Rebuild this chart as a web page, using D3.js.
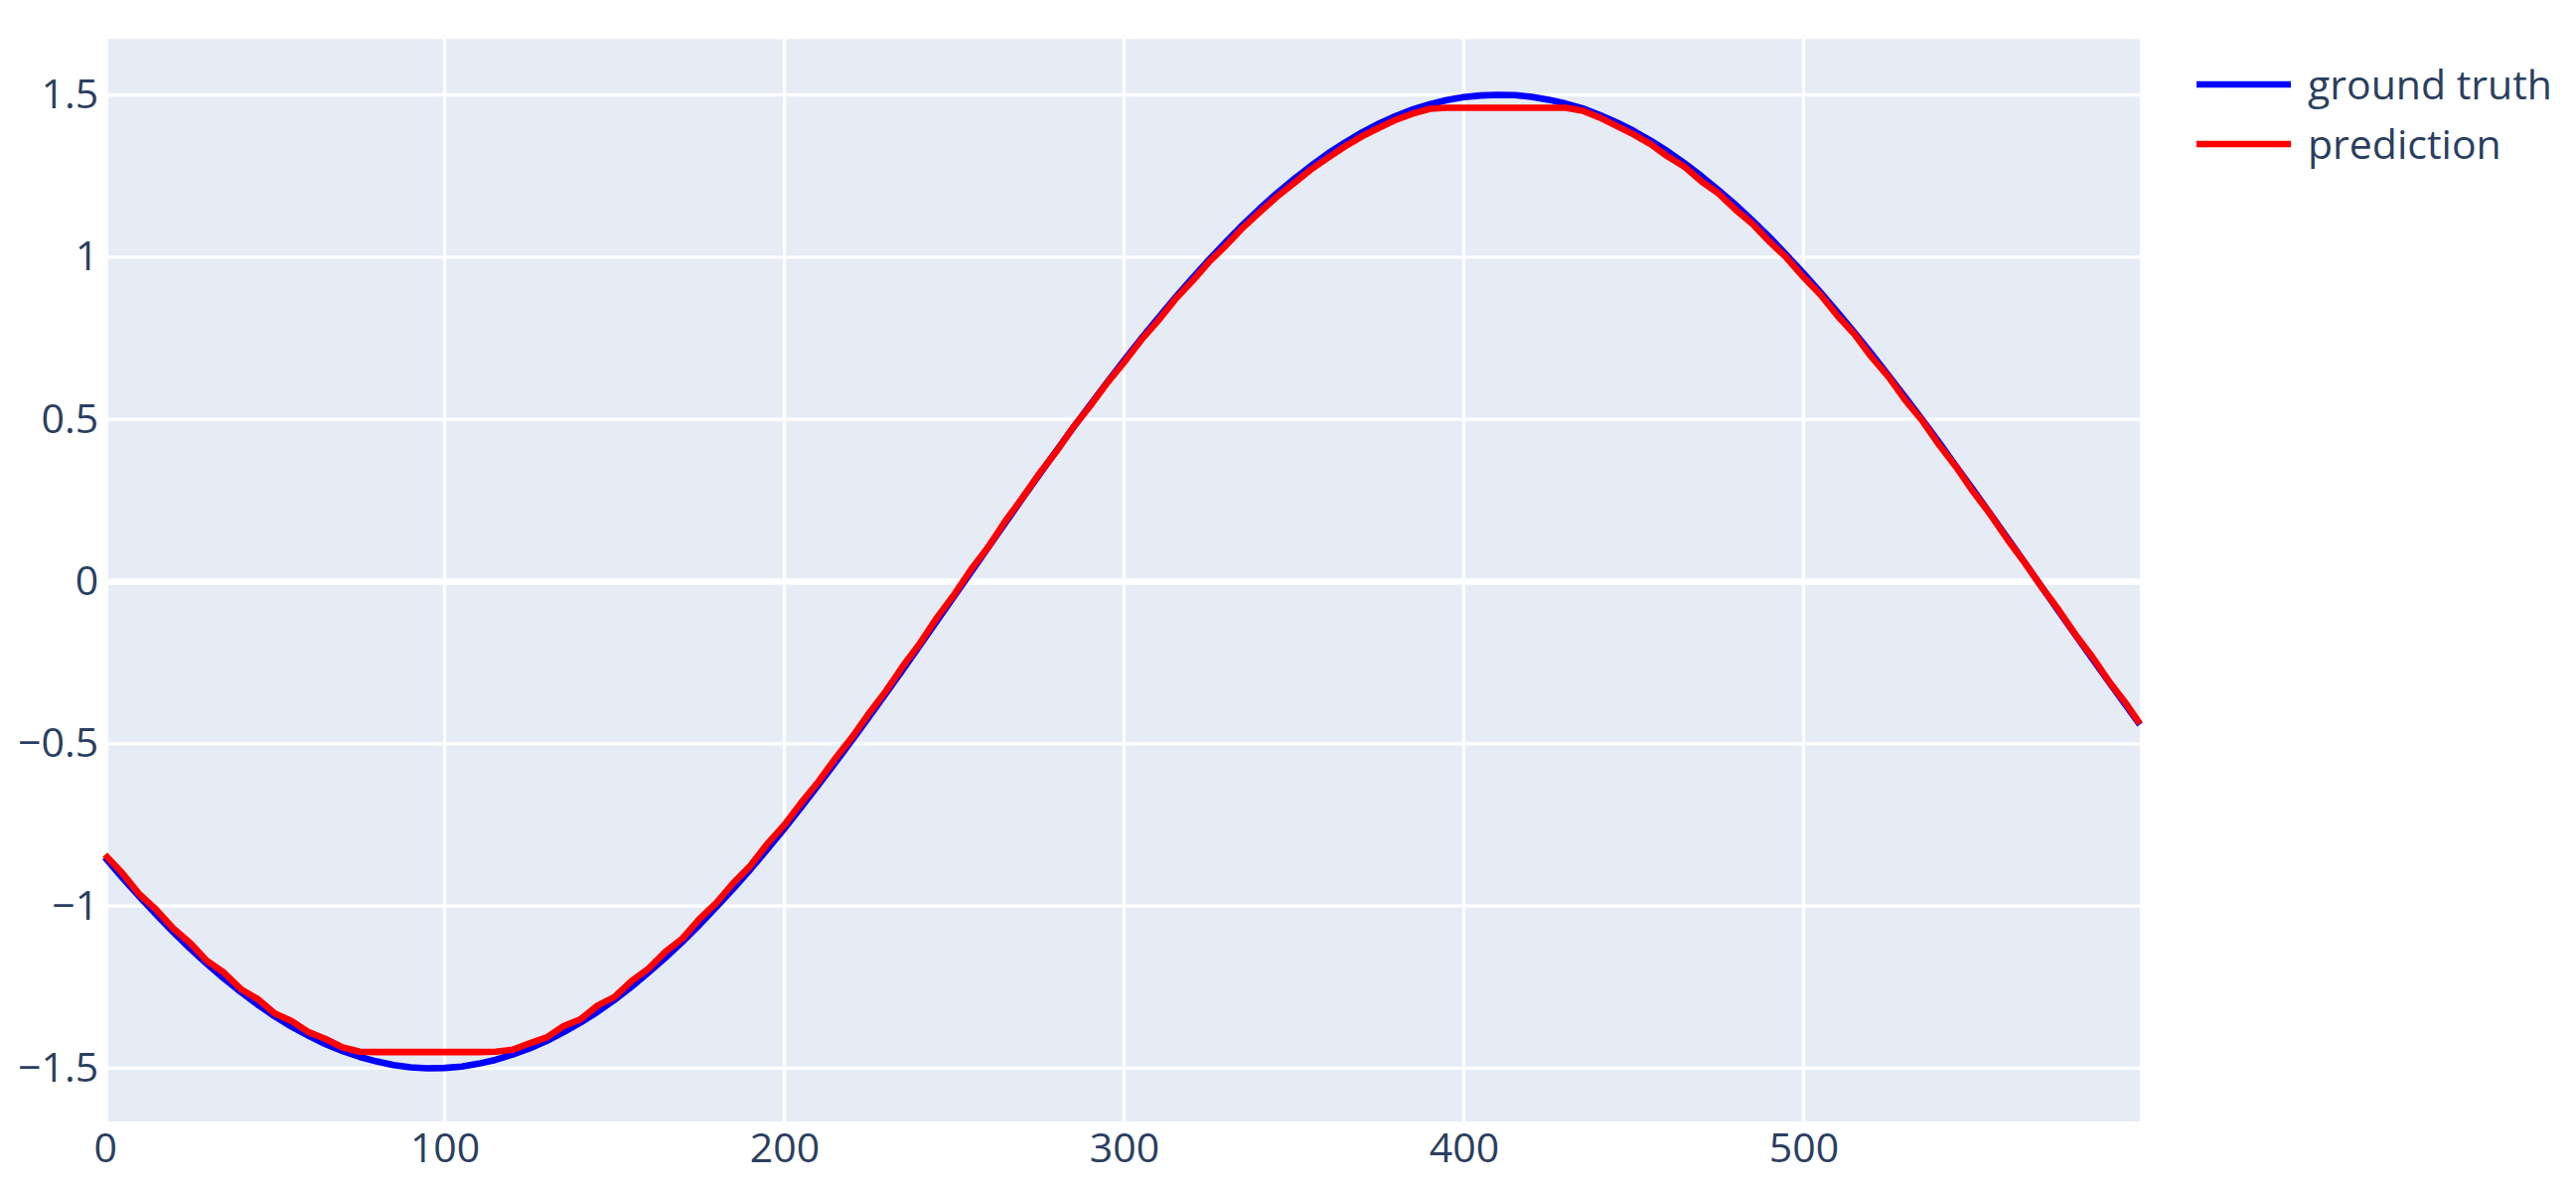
<!DOCTYPE html>
<html><head><meta charset="utf-8">
<script src="https://cdn.jsdelivr.net/npm/d3@7"></script>
<style>html,body{margin:0;padding:0;background:#fff;overflow:hidden}</style>
</head><body>
<svg id="chart" width="2593" height="1199"></svg>
<script>
const seriesNames = ["ground truth", "prediction"];
const seriesColors = ["#0000ff", "#ff0000"];
const xValues = [0,5,10,15,20,25,30,35,40,45,50,55,60,65,70,75,80,85,90,95,
  100,105,110,115,120,125,130,135,140,145,150,155,160,165,170,175,180,185,190,195,
  200,205,210,215,220,225,230,235,240,245,250,255,260,265,270,275,280,285,290,295,
  300,305,310,315,320,325,330,335,340,345,350,355,360,365,370,375,380,385,390,395,
  400,405,410,415,420,425,430,435,440,445,450,455,460,465,470,475,480,485,490,495,
  500,505,510,515,520,525,530,535,540,545,550,555,560,565,570,575,580,585,590,595,599];
const groundTruth = [-0.850,-0.911,-0.969,-1.025,-1.079,-1.130,-1.178,-1.223,-1.265,-1.304,
  -1.340,-1.372,-1.400,-1.426,-1.447,-1.465,-1.479,-1.490,-1.497,-1.500,
  -1.499,-1.495,-1.486,-1.474,-1.458,-1.439,-1.416,-1.389,-1.359,-1.326,
  -1.289,-1.249,-1.205,-1.159,-1.110,-1.058,-1.003,-0.946,-0.887,-0.825,
  -0.761,-0.695,-0.627,-0.558,-0.488,-0.416,-0.343,-0.270,-0.195,-0.120,
  -0.045,0.030,0.105,0.180,0.255,0.329,0.402,0.474,0.544,0.614,
  0.682,0.748,0.812,0.874,0.934,0.992,1.047,1.100,1.150,1.197,
  1.240,1.281,1.319,1.353,1.384,1.411,1.435,1.455,1.471,1.484,
  1.493,1.498,1.500,1.499,1.494,1.485,1.473,1.458,1.438,1.415,
  1.389,1.359,1.326,1.289,1.249,1.206,1.161,1.112,1.061,1.006,
  0.950,0.891,0.830,0.767,0.702,0.635,0.567,0.498,0.427,0.354,
  0.282,0.208,0.134,0.060,-0.015,-0.090,-0.164,-0.238,-0.311,-0.383,-0.441];
const prediction = [-0.842,-0.897,-0.962,-1.010,-1.068,-1.113,-1.169,-1.205,-1.256,-1.287,
  -1.331,-1.355,-1.389,-1.410,-1.436,-1.449,-1.450,-1.450,-1.450,-1.450,
  -1.450,-1.450,-1.450,-1.449,-1.443,-1.423,-1.405,-1.370,-1.349,-1.307,
  -1.280,-1.231,-1.193,-1.141,-1.100,-1.040,-0.990,-0.929,-0.876,-0.808,
  -0.750,-0.681,-0.617,-0.545,-0.479,-0.405,-0.336,-0.259,-0.189,-0.110,
  -0.040,0.038,0.106,0.186,0.257,0.332,0.400,0.475,0.541,0.612,
  0.676,0.744,0.804,0.869,0.925,0.985,1.036,1.091,1.139,1.186,
  1.228,1.270,1.306,1.341,1.372,1.398,1.423,1.442,1.457,1.460,
  1.460,1.460,1.460,1.460,1.460,1.460,1.460,1.451,1.430,1.404,
  1.378,1.348,1.310,1.278,1.233,1.196,1.146,1.102,1.047,0.998,
  0.938,0.884,0.819,0.762,0.692,0.631,0.558,0.495,0.420,0.352,
  0.276,0.207,0.130,0.060,-0.016,-0.086,-0.163,-0.232,-0.309,-0.377,-0.438];
const xTickValues = [0, 100, 200, 300, 400, 500];
const yTickValues = [-1.5, -1, -0.5, 0, 0.5, 1, 1.5];
const yTickLabels = ["\u22121.5", "\u22121", "\u22120.5", "0", "0.5", "1", "1.5"];

const FONT = '"Open Sans", verdana, arial, sans-serif';
const TEXT = "#2a3f5f";
const FS = 41;
const plot = {left: 105.6, right: 2154, top: 39.3, bottom: 1129};

const svg = d3.select("#chart");
svg.append("rect").attr("width", 2593).attr("height", 1199).attr("fill", "#fff");

const x = d3.scaleLinear().domain([0, 599]).range([plot.left, plot.right]);
const y = d3.scaleLinear().domain([-1.664, 1.672]).range([plot.bottom, plot.top]);

svg.append("rect")
  .attr("x", plot.left).attr("y", plot.top)
  .attr("width", plot.right - plot.left).attr("height", plot.bottom - plot.top)
  .attr("fill", "#E5ECF6");

const grid = svg.append("g");
grid.selectAll(".gx").data(xTickValues.filter(d => d !== 0)).join("line")
  .attr("x1", d => x(d)).attr("x2", d => x(d))
  .attr("y1", plot.top).attr("y2", plot.bottom)
  .attr("stroke", "#fff").attr("stroke-width", 3.3);
grid.selectAll(".gy").data(yTickValues.filter(d => d !== 0)).join("line")
  .attr("class", "gy")
  .attr("x1", plot.left).attr("x2", plot.right)
  .attr("y1", d => y(d)).attr("y2", d => y(d))
  .attr("stroke", "#fff").attr("stroke-width", 3.3);
// zero lines
grid.append("line").attr("x1", x(0)).attr("x2", x(0))
  .attr("y1", plot.top).attr("y2", plot.bottom)
  .attr("stroke", "#fff").attr("stroke-width", 6.6);
grid.append("line").attr("x1", plot.left).attr("x2", plot.right)
  .attr("y1", y(0)).attr("y2", y(0))
  .attr("stroke", "#fff").attr("stroke-width", 6.6);

// axes
const xAxis = svg.append("g").attr("transform", `translate(0,${plot.bottom})`)
  .call(d3.axisBottom(x).tickValues(xTickValues).tickFormat(d3.format("d")).tickSize(0).tickPadding(12));
const yAxis = svg.append("g").attr("transform", `translate(${plot.left - 6.5},0)`)
  .call(d3.axisLeft(y).tickValues(yTickValues).tickFormat((d, i) => yTickLabels[i]).tickSize(0).tickPadding(0));
[xAxis, yAxis].forEach(a => {
  a.select(".domain").remove();
  a.selectAll("text").attr("fill", TEXT).style("font-family", FONT).style("font-size", FS + "px");
});

// traces
const series = [groundTruth, prediction];
const line = d3.line().x((d, i) => x(xValues[i])).y(d => y(d));
series.forEach((s, k) => {
  svg.append("path").datum(s)
    .attr("d", line)
    .attr("fill", "none")
    .attr("stroke", seriesColors[k])
    .attr("stroke-width", 6.6)
    .attr("stroke-linejoin", "round");
});

// legend
const legendRows = [85, 145];
const legend = svg.append("g");
seriesNames.forEach((name, k) => {
  legend.append("line")
    .attr("x1", 2211).attr("x2", 2306)
    .attr("y1", legendRows[k]).attr("y2", legendRows[k])
    .attr("stroke", seriesColors[k]).attr("stroke-width", 6.6);
  legend.append("text")
    .attr("x", 2323).attr("y", legendRows[k] + 14.5)
    .attr("fill", TEXT).style("font-family", FONT).style("font-size", FS + "px")
    .text(name);
});
</script>
</body></html>
